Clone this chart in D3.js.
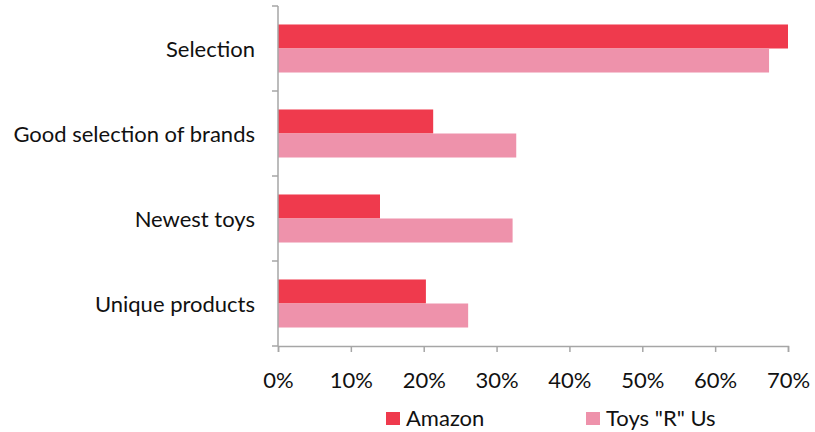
<!DOCTYPE html>
<html>
<head>
<meta charset="utf-8">
<script src="https://cdn.jsdelivr.net/npm/d3@7"></script>
<style>
  body { margin: 0; background: #fff; }
  text { font-family: Lato, "Open Sans", sans-serif; fill: #111; }
</style>
</head>
<body>
<div id="chart"></div>
<script>
const categories = ["Selection", "Good selection of brands", "Newest toys", "Unique products"];
const seriesNames = ["Amazon", "Toys \"R\" Us"];
const amazon = [0.70, 0.213, 0.14, 0.203];
const toysRUs = [0.674, 0.327, 0.322, 0.261];
const xTicks = [0, 0.1, 0.2, 0.3, 0.4, 0.5, 0.6, 0.7];
const colors = ["#EF3A4D", "#EE92AB"];

const W = 815, H = 432;
const margin = { top: 6, right: 27, bottom: 86, left: 278 };
const width = W - margin.left - margin.right;
const height = H - margin.top - margin.bottom;
const fontSize = "22px";

const svg = d3.select("#chart")
  .append("svg")
  .attr("width", W)
  .attr("height", H)
  .append("g")
  .attr("transform", "translate(" + margin.left + "," + margin.top + ")");

const x = d3.scaleLinear().domain([0, 0.7]).range([0, width]);
const y = d3.scaleBand().domain(categories).range([0, height]).paddingInner(0.435).paddingOuter(0.2175);
const y1 = d3.scaleBand().domain(seriesNames).range([0, y.bandwidth()]);

// bars
const rows = categories.map((c, i) => ({ cat: c, vals: [amazon[i], toysRUs[i]] }));
svg.append("g")
  .selectAll("g")
  .data(rows)
  .enter()
  .append("g")
  .attr("transform", d => "translate(0," + y(d.cat) + ")")
  .selectAll("rect")
  .data(d => d.vals.map((v, j) => ({ name: seriesNames[j], v: v, j: j })))
  .enter()
  .append("rect")
  .attr("x", 0)
  .attr("y", d => y1(d.name))
  .attr("width", d => x(d.v))
  .attr("height", y1.bandwidth())
  .attr("fill", d => colors[d.j]);

// y axis with ticks between categories
const axisColor = "#A6A6A6";
const yAxis = svg.append("g");
yAxis.append("line")
  .attr("x1", 0).attr("x2", 0).attr("y1", 0).attr("y2", height)
  .attr("stroke", axisColor).attr("stroke-width", 1.5);
const step = y.step();
yAxis.selectAll("line.tick")
  .data(d3.range(categories.length + 1))
  .enter()
  .append("line")
  .attr("class", "tick")
  .attr("x1", -6).attr("x2", 0)
  .attr("y1", i => i * step).attr("y2", i => i * step)
  .attr("stroke", axisColor).attr("stroke-width", 1.5);
yAxis.selectAll("text")
  .data(categories)
  .enter()
  .append("text")
  .attr("x", -23)
  .attr("y", d => y(d) + y.bandwidth() / 2 + 8)
  .attr("text-anchor", "end")
  .style("font-size", fontSize)
  .text(d => d);

// x axis
const xAxis = svg.append("g")
  .attr("transform", "translate(0," + height + ")")
  .call(d3.axisBottom(x).tickValues(xTicks).tickFormat(d3.format(".0%")).tickSize(6));
xAxis.select(".domain").attr("stroke", axisColor).attr("stroke-width", 1.5);
xAxis.selectAll(".tick line").attr("stroke", axisColor).attr("stroke-width", 1.5);
xAxis.selectAll(".tick text")
  .attr("y", 42)
  .attr("dy", null)
  .style("font-size", fontSize)
  .style("font-family", "Lato, sans-serif")
  .attr("fill", "#111");

// legend
const legendX = [386, 586];
const legend = d3.select("svg").append("g");
seriesNames.forEach((n, j) => {
  legend.append("rect")
    .attr("x", legendX[j]).attr("y", 412)
    .attr("width", 14).attr("height", 13)
    .attr("fill", colors[j]);
  legend.append("text")
    .attr("x", legendX[j] + 20).attr("y", 426)
    .style("font-size", fontSize)
    .text(n);
});
</script>
</body>
</html>
